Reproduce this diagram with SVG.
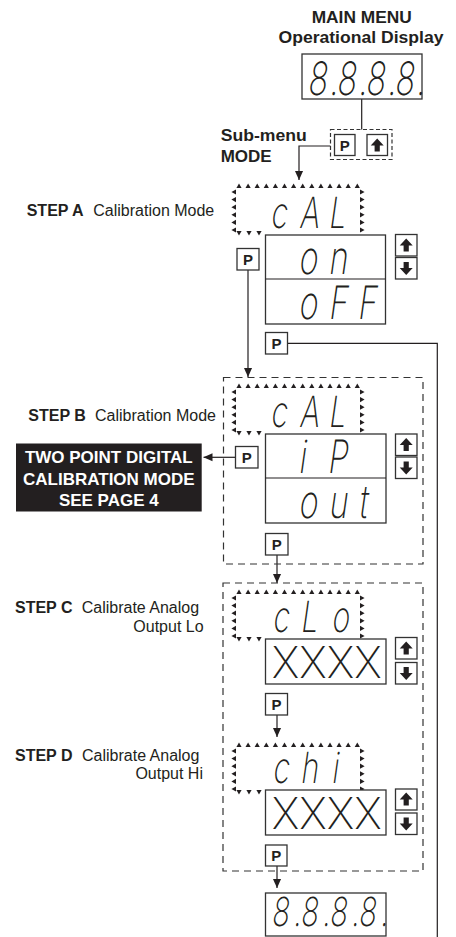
<svg xmlns="http://www.w3.org/2000/svg" xmlns:xlink="http://www.w3.org/1999/xlink" width="456" height="937" viewBox="0 0 456 937">
<style>
  .hd{font-family:"Liberation Sans",Arial,sans-serif;font-weight:bold;font-size:17px;fill:#231f20}
  .sb{font-family:"Liberation Sans",Arial,sans-serif;font-weight:bold;font-size:16px;fill:#231f20}
  .sr{font-family:"Liberation Sans",Arial,sans-serif;font-size:16px;fill:#231f20}
  .wt{font-family:"Liberation Sans",Arial,sans-serif;font-weight:bold;font-size:17px;fill:#ffffff}
  .seg{font-family:Inter,"DejaVu Sans",sans-serif;font-weight:200;fill:#231f20}
  .xx{font-family:Inter,"Liberation Sans",sans-serif;font-weight:200;font-size:44px;fill:#231f20}
  .pt{font-family:"Liberation Sans",Arial,sans-serif;font-weight:bold;font-size:15px;fill:#231f20}
  .box{fill:#ffffff;stroke:#333;stroke-width:1.3}
  .btn{fill:#ffffff;stroke:#333;stroke-width:1.3}
  .dash{fill:none;stroke:#333;stroke-width:1.2;stroke-dasharray:7 5}
  .sdash{fill:none;stroke:#333;stroke-width:1.2;stroke-dasharray:4 2.5}
  .ln{fill:none;stroke:#231f20;stroke-width:1.2}
  .arw{fill:none;stroke:#231f20;stroke-width:1.2;marker-end:url(#arr)}
  .tri{fill:#231f20}
</style>
<defs>
  <marker id="arr" viewBox="0 0 10 10" refX="10" refY="5" markerWidth="9" markerHeight="9" markerUnits="userSpaceOnUse" orient="auto">
    <path d="M0,0.5 L10,5 L0,9.5 z" fill="#231f20"/>
  </marker>
  <polygon id="tu" class="tri" points="-2.6,2 2.6,2 0,-2.6"/>
  <polygon id="td" class="tri" points="-2.6,-2 2.6,-2 0,2.6"/>
  <polygon id="tl" class="tri" points="2,-2.6 2,2.6 -2.6,0"/>
  <polygon id="tr" class="tri" points="-2,-2.6 -2,2.6 2.6,0"/>
  <g id="marq">
    <use href="#tu" x="5" y="0"/><use href="#tu" x="14.1" y="0"/><use href="#tu" x="23.2" y="0"/><use href="#tu" x="32.3" y="0"/>
    <use href="#tu" x="41.4" y="0"/><use href="#tu" x="50.5" y="0"/><use href="#tu" x="59.6" y="0"/><use href="#tu" x="68.7" y="0"/>
    <use href="#tu" x="77.8" y="0"/><use href="#tu" x="86.9" y="0"/><use href="#tu" x="96" y="0"/><use href="#tu" x="105.1" y="0"/>
    <use href="#tu" x="114.2" y="0"/><use href="#tu" x="123.3" y="0"/>
    <use href="#tl" x="0" y="6"/><use href="#tl" x="0" y="13.6"/><use href="#tl" x="0" y="21.2"/><use href="#tl" x="0" y="28.8"/><use href="#tl" x="0" y="36.4"/><use href="#tl" x="0" y="44"/>
    <use href="#tr" x="128" y="6"/><use href="#tr" x="128" y="13.6"/><use href="#tr" x="128" y="21.2"/><use href="#tr" x="128" y="28.8"/><use href="#tr" x="128" y="36.4"/><use href="#tr" x="128" y="44"/>
    <use href="#td" x="5" y="47"/><use href="#td" x="15" y="47"/><use href="#td" x="25" y="47"/>
  </g>
  <polygon id="up" fill="#231f20" points="0,-7 6.5,0 2.6,0 2.6,6 -2.6,6 -2.6,0 -6.5,0"/>
  <polygon id="dn" fill="#231f20" points="0,7 6.5,0 2.6,0 2.6,-6 -2.6,-6 -2.6,0 -6.5,0"/>
</defs>

<rect width="456" height="937" fill="#ffffff"/>

<!-- connectors -->
<g id="connectors">
  <line class="ln" x1="361.7" y1="99" x2="361.7" y2="129.5"/>
  <polyline class="arw" points="330.5,146 299,146 299,180"/>
  <polyline class="arw" points="248,270 248,377"/>
  <polyline class="ln" points="287,343.3 437.3,343.3 437.3,937"/>
  <polyline class="arw" points="235,457.3 203.5,457.3"/>
  <polyline class="arw" points="277,555 277,583"/>
  <polyline class="arw" points="277,715 277,737"/>
  <polyline class="arw" points="277,866 277,888"/>
</g>

<!-- main menu -->
<g id="main-menu">
  <text class="hd" x="361.7" y="22.5" text-anchor="middle" textLength="100" lengthAdjust="spacingAndGlyphs">MAIN MENU</text>
  <text class="hd" x="361" y="42.5" text-anchor="middle" textLength="165" lengthAdjust="spacingAndGlyphs">Operational Display</text>
  <rect class="box" x="302" y="54" width="120" height="45"/>
  <g transform="translate(307,95) skewX(-8) scale(0.7,1)"><text class="seg" font-size="46" x="0 31.4 41.4 72.8 82.9 114.3 124.3 155.7" y="0">8.8.8.8.</text></g>
</g>

<!-- sub-menu mode -->
<g id="submenu-mode">
  <text class="hd" x="220.7" y="141" textLength="86" lengthAdjust="spacingAndGlyphs">Sub-menu</text>
  <text class="hd" x="220.7" y="162">MODE</text>
  <rect class="sdash" x="330.5" y="129.5" width="61.5" height="30"/>
  <rect class="btn" x="334.5" y="134.5" width="20.5" height="21"/>
  <text class="pt" x="344.7" y="150.5" text-anchor="middle">P</text>
  <rect class="btn" x="367" y="134.5" width="20.5" height="21"/>
  <use href="#up" x="377.2" y="145.5"/>
</g>

<!-- step A -->
<g id="step-a">
  <text class="sb" x="26.7" y="216">STEP A</text>
  <text class="sr" x="93.3" y="216">Calibration Mode</text>
  <use href="#marq" x="234" y="186"/>
  <g transform="translate(270,228) skewX(-8) scale(0.7,1)"><text class="seg" font-size="43" x="0 41.4 82.9" y="0">cAL</text></g>
  <rect class="box" x="265.5" y="235" width="120" height="89"/>
  <line class="ln" x1="265.5" y1="279" x2="385.5" y2="279"/>
  <g transform="translate(298,274) skewX(-8) scale(0.7,1)"><text class="seg" font-size="46" x="0 42.9" y="0">on</text></g>
  <g transform="translate(298,319) skewX(-8) scale(0.7,1)"><text class="seg" font-size="46" x="0 42.9 84.3" y="0">oFF</text></g>
  <rect class="btn" x="395.5" y="234.5" width="21.5" height="21.5"/>
  <use href="#up" x="406.2" y="245.5"/>
  <rect class="btn" x="395.5" y="257.5" width="21.5" height="21.5"/>
  <use href="#dn" x="406.2" y="268"/>
  <rect class="btn" x="237" y="248.5" width="22" height="21.5"/>
  <text class="pt" x="248" y="264.7" text-anchor="middle">P</text>
  <rect class="btn" x="265.5" y="332.5" width="22" height="21.5"/>
  <text class="pt" x="276.5" y="348.7" text-anchor="middle">P</text>
</g>

<!-- step B -->
<g id="step-b">
  <rect class="dash" x="223.5" y="377.5" width="199.5" height="186.5"/>
  <text class="sb" x="28.3" y="421">STEP B</text>
  <text class="sr" x="95" y="421">Calibration Mode</text>
  <use href="#marq" x="234" y="386"/>
  <g transform="translate(270,427) skewX(-8) scale(0.7,1)"><text class="seg" font-size="43" x="0 41.4 82.9" y="0">cAL</text></g>
  <rect class="box" x="265.5" y="434" width="120.5" height="89"/>
  <line class="ln" x1="265.5" y1="478" x2="386" y2="478"/>
  <g transform="translate(298,473) skewX(-8) scale(0.7,1)"><text class="seg" font-size="46" x="0 41.4" y="0">iP</text></g>
  <g transform="translate(298,518) skewX(-8) scale(0.7,1)"><text class="seg" font-size="46" x="0 42.9 85.7" y="0">out</text></g>
  <rect class="btn" x="395.5" y="434" width="21.5" height="21.5"/>
  <use href="#up" x="406.2" y="445"/>
  <rect class="btn" x="395.5" y="457" width="21.5" height="21.5"/>
  <use href="#dn" x="406.2" y="467.5"/>
  <rect class="btn" x="235.5" y="446.5" width="22.5" height="21.5"/>
  <text class="pt" x="246.7" y="462.7" text-anchor="middle">P</text>
  <rect class="btn" x="265.5" y="533.5" width="22.5" height="21.5"/>
  <text class="pt" x="276.7" y="549.7" text-anchor="middle">P</text>
</g>

<!-- two point calibration note -->
<g id="two-point">
  <rect x="16" y="443.5" width="185.7" height="68" fill="#231f20"/>
  <text class="wt" x="108.8" y="463.3" text-anchor="middle">TWO POINT DIGITAL</text>
  <text class="wt" x="108.8" y="485" text-anchor="middle">CALIBRATION MODE</text>
  <text class="wt" x="108.8" y="506" text-anchor="middle">SEE PAGE 4</text>
</g>

<!-- step C and D container -->
<g id="steps-cd-frame">
  <rect class="dash" x="223" y="583" width="200" height="288"/>
</g>

<!-- step C -->
<g id="step-c">
  <text class="sb" x="15" y="613.3">STEP C</text>
  <text class="sr" x="81.7" y="613.3">Calibrate Analog</text>
  <text class="sr" x="133.3" y="631.7">Output Lo</text>
  <use href="#marq" x="234" y="592"/>
  <g transform="translate(272,632) skewX(-8) scale(0.7,1)"><text class="seg" font-size="43" x="0 40 84.3" y="0">cLo</text></g>
  <rect class="box" x="265.5" y="639" width="120.5" height="45"/>
  <text class="xx" x="271.7" y="678" textLength="110" lengthAdjust="spacingAndGlyphs">XXXX</text>
  <rect class="btn" x="395.5" y="637.5" width="21.5" height="21.5"/>
  <use href="#up" x="406.2" y="648.5"/>
  <rect class="btn" x="395.5" y="662.5" width="21.5" height="21.5"/>
  <use href="#dn" x="406.2" y="673"/>
  <rect class="btn" x="265.5" y="693.5" width="22" height="21.5"/>
  <text class="pt" x="276.5" y="709.7" text-anchor="middle">P</text>
</g>

<!-- step D -->
<g id="step-d">
  <text class="sb" x="15" y="760.7">STEP D</text>
  <text class="sr" x="82" y="760.7">Calibrate Analog</text>
  <text class="sr" x="135.4" y="779">Output Hi</text>
  <use href="#marq" x="234" y="745"/>
  <g transform="translate(272,783) skewX(-8) scale(0.7,1)"><text class="seg" font-size="43" x="0 40 84.3" y="0">chi</text></g>
  <rect class="box" x="265.5" y="790" width="120.5" height="45"/>
  <text class="xx" x="271.7" y="829" textLength="110" lengthAdjust="spacingAndGlyphs">XXXX</text>
  <rect class="btn" x="395.5" y="789" width="21.5" height="21"/>
  <use href="#up" x="406.2" y="799.5"/>
  <rect class="btn" x="395.5" y="813" width="21.5" height="21.5"/>
  <use href="#dn" x="406.2" y="823.5"/>
  <rect class="btn" x="265.5" y="845" width="21.5" height="21"/>
  <text class="pt" x="276.2" y="861" text-anchor="middle">P</text>
</g>

<!-- final display -->
<g id="final-display">
  <rect class="box" x="265.5" y="893" width="120.5" height="43"/>
  <g transform="translate(271,926) skewX(-8) scale(0.72,1)"><text class="seg" font-size="40" x="0 30.5 40.3 70.8 80.6 111.1 120.8 151.3" y="0">8.8.8.8.</text></g>
</g>
</svg>
